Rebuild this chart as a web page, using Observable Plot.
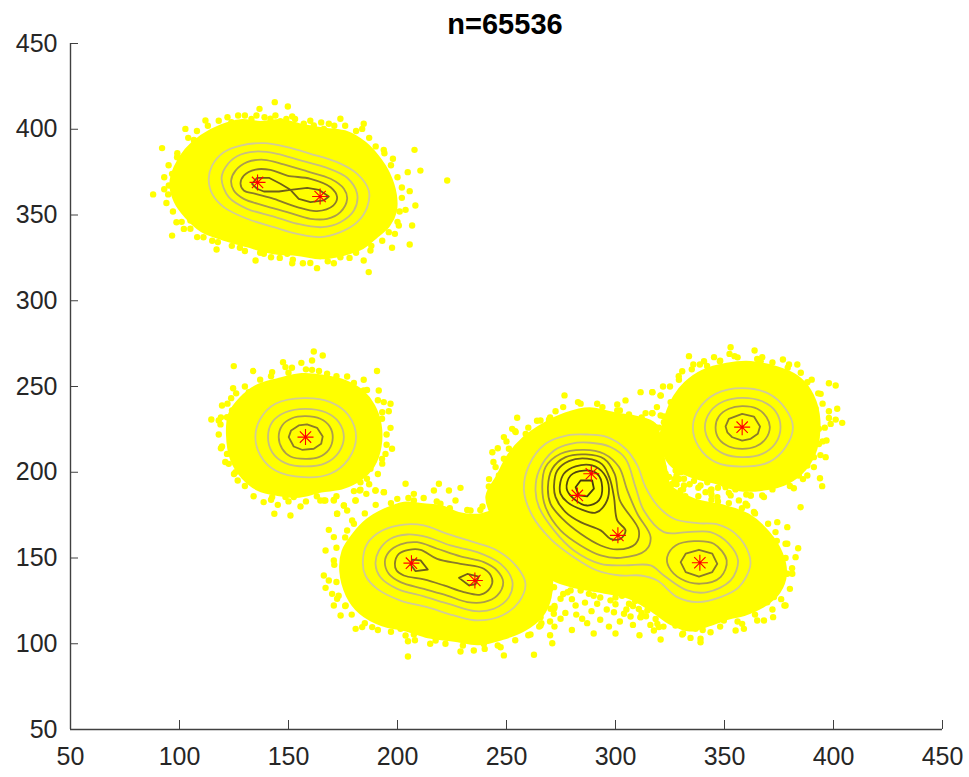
<!DOCTYPE html>
<html><head><meta charset="utf-8">
<script src="https://cdn.jsdelivr.net/npm/d3@7"></script>
<script src="https://cdn.jsdelivr.net/npm/@observablehq/plot@0.6"></script>
<style>
html,body{margin:0;padding:0;background:#fff}
#title{height:34px;text-align:center;font:bold 29px/48px "Liberation Sans",Arial,sans-serif;color:#000;padding-left:41px;box-sizing:border-box;width:969px;overflow:visible}
</style></head><body>
<div id="title">n=65536</div>
<div id="chart"></div>
<script>
const tickValues = [50,100,150,200,250,300,350,400,450];

// dense yellow regions of the scatter
const cloudA = [[98,378],[103,388],[110,396],[119,402],[128,405],[137,404],[147,405],[157,402],[167,400],[177,398],[185,392],[191,384],[196,374],[199,362],[199,352],[196,344],[190,337],[184,331],[175,327],[165,325],[154,327],[143,328],[131,332],[120,336],[110,341],[103,349],[98,358],[96,368]];
const cloudB = [[122,222],[123,234],[128,243],[135,250],[145,254],[156,257],[166,256],[176,253],[184,247],[189,239],[192,228],[192,215],[189,204],[183,196],[175,191],[165,189],[155,186],[145,187],[136,190],[129,197],[124,207]];
const cloudC = [[174,142],[175,154],[180,164],[186,172],[194,178],[203,182],[212,181],[220,180],[228,176],[237,175],[245,178],[252,184],[258,176],[265,164],[270,146],[270,127],[266,116],[258,108],[248,103],[237,100],[226,102],[214,104],[204,108],[193,111],[183,118],[177,128]];
const cloudD = [[241,186],[246,198],[251,210],[258,220],[267,228],[277,234],[288,237],[300,234],[310,232],[318,228],[321,214],[323,202],[325,192],[336,184],[350,180],[361,175],[370,165],[376,153],[378,141],[375,130],[369,123],[359,117],[352,115],[343,111],[334,108],[325,112],[316,120],[306,127],[295,130],[282,133],[272,137],[263,146],[256,156],[250,166],[244,174]];
const cloudE = [[323,232],[327,244],[332,252],[340,259],[351,263],[362,264],[374,261],[383,256],[389,248],[393,234],[392,214],[387,202],[379,194],[367,190],[356,190],[346,194],[334,198],[325,205],[321,218]];

// scatter points along the ragged edge of each region
const edgeA = [[104,395],[108,399],[113,402],[118,405],[122,407],[130,408],[133,406],[139,407],[144,408],[149,406],[153,406],[160,405],[165,404],[171,402],[176,402],[181,399],[187,395],[190,390],[194,386],[197,379],[200,372],[202,366],[202,360],[201,352],[200,346],[196,340],[193,335],[188,332],[181,328],[178,325],[168,323],[160,322],[152,324],[146,325],[137,328],[130,329],[124,332],[115,335],[111,337],[105,342],[101,346],[97,352],[94,357],[93,365],[93,372],[95,379],[99,386]];
const edgeB = [[118,222],[119,232],[122,240],[126,246],[130,250],[137,254],[142,256],[150,258],[158,260],[164,259],[172,256],[180,252],[186,248],[191,242],[193,235],[195,222],[195,216],[193,205],[191,199],[187,193],[180,189],[172,186],[163,186],[158,183],[150,183],[142,184],[134,186],[130,192],[125,199],[121,206],[119,214]];
const edgeC = [[171,146],[172,156],[176,162],[180,170],[185,176],[190,181],[197,182],[205,185],[212,185],[218,183],[224,179],[232,178],[238,178],[172,136],[173,128],[176,122],[179,117],[185,112],[191,108],[197,107],[208,102],[215,100],[222,100],[230,99],[240,97],[246,99],[254,102],[260,105],[265,110],[270,113],[272,121]];
const edgeD = [[246,214],[250,218],[254,224],[260,226],[264,230],[270,232],[276,238],[284,240],[294,238],[302,236],[312,232],[320,226],[323,218],[325,210],[327,196],[331,190],[338,186],[344,184],[352,182],[358,179],[364,176],[370,170],[374,160],[378,150],[381,144],[380,132],[376,126],[372,120],[364,117],[356,113],[348,110],[340,108],[331,106],[322,110],[314,116],[308,122],[300,127],[290,128],[278,130],[270,132],[242,196],[244,206],[239,180]];
const edgeE = [[325,250],[329,256],[335,260],[342,262],[348,265],[356,267],[365,266],[372,264],[379,261],[385,258],[390,254],[393,246],[395,240],[396,226],[395,218],[394,210],[391,203],[386,196],[380,192],[372,190],[360,187],[352,188],[344,190],[336,195],[328,198],[322,203],[319,210],[318,222],[319,238]];
// scatter points in the thin zones below D and between D and E
const gapBelowD = [[268,126],[272,122],[276,129],[280,126],[284,131],[286,124],[289,119],[293,127],[296,120],[300,123],[303,128],[305,120],[309,125],[312,118],[315,122],[277,118],[282,117],[287,112],[293,114],[297,110],[302,113],[308,111],[264,122],[266,112],[261,118],[272,110],[280,108],[290,106],[300,106],[311,105],[316,111],[270,105]];
const gapBetweenDE = [[330,200],[336,199],[342,197],[347,191],[351,196],[355,190],[338,191],[332,186],[326,186],[323,181],[347,183],[340,180],[328,193],[334,193],[344,187]];

// individually visible scatter points
const pointsA = [[143.7,415.8],[149.7,413.3],[136.7,411.9],[135.3,408],[126.9,408],[111.9,405.1],[102.7,400.2],[123.8,404.1],[92,389],[106.6,393.8],[98.9,383.7],[96.6,374],[95.1,367.2],[87.9,362],[94.8,362],[100.8,356.9],[103.5,350.7],[98.6,345.8],[105,346.8],[102,341.9],[96.6,338],[108.1,337.1],[117.6,334.2],[117,329.9],[127.7,330.9],[134.9,323.5],[138.7,327.4],[142,325.4],[151.7,321.9],[156.6,321.9],[163.1,319],[170.8,321.9],[184.5,323.5],[186.8,316.7],[187.6,329.3],[197.5,330.9],[205.6,332.8],[198.8,339],[206.7,343.9],[200.6,343.9],[203.7,353],[208.2,355.5],[205.6,363.9],[222.8,370.1],[210.5,375.9],[204.7,375],[207.8,388],[197.9,382.8],[193.7,388],[184.5,403.2],[183.8,400.2],[173.8,406.1],[168.5,403.2],[166.2,400.2],[151.7,407.4],[141.7,406.1],[146.3,404.7],[157,403.2],[161.6,402.2],[192.2,344.9],[189.1,339],[149.4,327.4],[173.8,325.4]];
const pointsB = [[161.6,270.4],[165.7,268.1],[147.5,264.2],[155.9,263.8],[160.8,265.2],[148.6,261.3],[151.6,260.9],[124.9,261.9],[133.8,259],[142.5,258.4],[190.6,259],[160.8,259.7],[167.7,257.4],[176.9,255.8],[184.5,253.9],[124.6,249],[131.8,246.7],[123.7,243.2],[119.5,238.9],[114.6,230.8],[118,230.2],[121.8,232.1],[124.1,236],[118.8,227.9],[119.5,215],[121.8,210.7],[123.4,215.6],[122.6,204.9],[125.7,200.1],[126.7,195.2],[193.7,240.9],[196.8,239.9],[196,235.6],[189.1,235],[192.9,231.2],[196.8,225.9],[197.5,213.7],[192.9,207.8],[194.5,210.7],[191.4,247.7],[184.5,247.7],[186,196.2],[183,194.2],[184.5,204.9],[187.6,202],[193.7,188.4],[189.9,189.4],[185.7,187.4],[182.7,189.4],[175.4,180.6],[170.8,183.9],[164.6,183.5],[166.9,183.5],[155.5,180],[150.9,174.8],[143.5,175.8],[145.1,181],[138.6,182.6],[142.5,185.5],[148.6,185.5],[152.4,185.5],[172.3,175.8],[176.9,177.7],[180.7,183.5]];
const pointsC = [[189.9,189.4],[193.8,188.4],[183,189.8],[180.8,183.5],[175.4,180.6],[170.8,183.5],[166.2,183.5],[172.3,175.8],[179.2,171.9],[168.5,166.4],[170.8,162.2],[176.9,166],[167,154.4],[170.8,148.6],[166.2,139.8],[168.5,136.9],[167,132.6],[170,129.1],[172.3,126.2],[170.8,122.3],[176.2,122.3],[173.9,116.5],[180.8,108.7],[183.8,109.7],[188.4,109.7],[201.4,108.7],[203.7,104.8],[207.5,105.4],[204.8,101.5],[204.8,92.6],[217.5,101.9],[228.9,95.5],[235,96.1],[248.8,93.2],[262.6,93.6],[271,100.3],[261,105.4],[265.6,110.7],[271.7,117.5],[271.7,120.4],[247.3,98],[239.6,99.9],[219,193.3],[203.7,193.3],[207.5,187.4],[216.7,189.4],[223.6,189.4],[228.9,190.9],[241.9,191.7],[244.2,183.5],[226.6,183.5],[219.7,181.6],[233.5,177.7],[199.9,184.5],[207.5,183.5]];
const pointsD = [[276.6,244.8],[282.8,240.9],[291.6,239.9],[300.8,239.5],[304.6,241.9],[311.5,246.7],[316.9,246.7],[320.7,244.8],[325.3,240.9],[272.5,235.6],[254.9,231.8],[269.5,230.6],[265.6,230.2],[252.6,225.3],[248.8,220.5],[258.8,222.4],[254.2,223.4],[243.5,211.7],[251.1,213.7],[248.8,207.9],[245,203],[246.5,198.1],[300.8,236],[306.2,233.7],[313.8,234.5],[316.9,234.5],[322.2,232.5],[314.6,223.4],[317.6,215.6],[322.2,210.8],[325.3,206.9],[327.6,201],[334.4,202],[340.6,201],[324.5,197.2],[331.4,196.2],[329.9,189.4],[342.1,194.2],[343.6,189.4],[349.7,193.3],[352.8,186.5],[346.7,185.5],[356.6,183.6],[360.4,180.6],[362,186.5],[368.1,185.5],[363.5,176.8],[374.2,170.9],[378.8,168],[373.4,165.1],[378,158.3],[372.7,156.4],[378.8,140.8],[378,122.3],[383.8,155.7],[378.8,158.3],[382.6,150.5],[381.1,140.8],[378,140.8],[377.5,122.3],[372.3,115.5],[368.1,113.6],[365,113.6],[358.9,108.7],[355.1,107.7],[358.1,111.6],[349.7,113.6],[343.6,106.7],[339,102.9],[339,100.9],[334.4,103.4],[330.6,105.4],[320.7,102.5],[317.6,107.7],[319.9,109.7],[327.5,110.6],[311.5,115.5],[306.9,115.9],[336.7,108.7],[310.7,120.3],[318.4,114.5],[372.7,127.2],[369.6,124.2],[376.5,149.5],[373.4,156.3],[270.2,120.4],[274.8,114.6],[281.7,122.3],[284.7,114.6],[265.6,115.5],[257.2,112.6],[291.6,123.3],[299.3,118.4],[303.9,117.5],[311.5,115.5],[279.4,131.1],[274.8,126.2],[297.7,125.3],[287.8,129.1],[306.2,123.3],[271.8,133],[314.6,119.4],[319.2,111.6]];
const pointsE = [[352.8,272.9],[352.3,269],[354.6,267.7],[363.8,271],[333.7,267.7],[345.2,267.1],[347.9,264.7],[367.3,267.1],[366.6,264.7],[376.8,265.7],[383.4,262.8],[379.6,262.8],[335.7,262.8],[340.6,264.7],[338.7,262.8],[330.6,258.9],[329.1,253.9],[321.8,250],[316.9,246.7],[320.7,244.7],[397.9,251.9],[401,250.6],[388,252.5],[394.1,245.7],[391.8,237],[397.9,235.6],[401.7,237],[397.9,231.7],[401,230.7],[404,228.8],[398.7,228.2],[393.3,225.3],[396.8,218.5],[393.3,216.5],[391,208.8],[396.4,208.8],[388,203.9],[384.1,198.1],[388,198.1],[393.8,196.5],[394.8,191.9],[381.8,190.7],[384.9,179.6],[367.3,186.4],[362,186.4],[359.7,181.6],[350.5,191.3],[339,192.3],[341.3,188.4],[326,193.2],[331.4,192.3],[329.1,196.1],[323,199.1],[316.9,234.4],[320.7,233.1],[322.2,229.2],[318.4,226.3],[321.5,222.4],[319.2,216.5]];

// density contours
const contourA1 = [[113.4,371.1],[115,378.9],[120.3,386.6],[128,390.5],[138.7,391.9],[149.4,389.6],[160.1,385.7],[172.3,380.8],[181.5,374],[186.8,364.3],[186.1,354.6],[181.5,345.8],[173.8,340],[164.7,337.1],[154,339],[143.3,342.9],[131,347.8],[120.3,354.6],[115,362.3]];
const contourA2 = [[119.3,371.1],[121.1,377.9],[126.4,384.3],[134.9,387],[144.8,385.7],[155.5,381.8],[167.7,377.5],[176.9,371.7],[181.5,362.3],[180,352.6],[173.8,345.8],[165.4,342.9],[154,344.9],[143.3,349.1],[131,353.6],[122.6,360.4]];
const contourA3 = [[123.7,370.1],[125.7,375.9],[131,380.8],[138.7,382.2],[147.8,379.5],[158.6,375.4],[169.3,371.1],[175.4,365.3],[176.9,359.4],[173.8,351.7],[167.7,347.8],[160.1,347.8],[149.4,351.7],[138.7,355.5],[129.5,359.4],[124.9,364.3]];
const contourA4 = [[128,368.2],[129.5,373],[134.9,376.5],[141.7,376.3],[149.4,373],[160.1,371.1],[169.3,366.2],[172.3,360.4],[170.5,355.5],[163.1,352.3],[154,354.6],[143.3,359.4],[134.9,362.3],[129.5,364.3]];
const contourA5a = [[133.3,368.2],[135.6,371.7],[141,371.7],[146.3,368.2],[150.9,364.7],[145.6,363.7],[138.7,363.7],[135.6,365.3]];
const contourA5b = [[150.9,364.7],[158.6,365.8],[163.9,364.7],[168.5,360.8],[166.2,358.5],[160.1,357.5],[154.7,359.4]];
const contourB1 = [[134.8,220.5],[137.1,231.2],[144,239.9],[157,243.2],[169.2,240.9],[177.6,233.1],[181,220.5],[177.6,207.8],[169.2,199.1],[157,197.1],[144,201],[137.1,209.8]];
const contourB2 = [[140.6,220.5],[142.5,229.2],[148.6,235],[157.8,237],[167,235],[173.1,229.2],[175.4,220.5],[173.1,211.7],[167,205.3],[157.8,203.4],[148.6,205.3],[142.5,211.7]];
const contourB3 = [[145.5,220.5],[147.1,227.3],[151.6,231.5],[157.8,232.7],[164.6,231.2],[168.9,226.7],[170.3,220.1],[168.5,213.1],[163.9,208.8],[157.8,207.8],[150.9,209.2],[147.1,213.7]];
const contourB4 = [[150.1,220.5],[151.2,224.4],[154.7,227.3],[158.5,227.9],[163.1,225.9],[165.7,220.9],[165,216.6],[161.6,213.7],[156.2,213.1],[152.4,215]];
const contourC1 = [[184.1,147.6],[186.1,158.3],[193,166],[202.9,169.5],[212.1,169],[222.8,164.1],[235,159.2],[245.7,154.4],[254.9,144.7],[258.7,135],[255.7,124.3],[248,116.5],[236.6,113.6],[225.9,116.5],[213.6,121.3],[201.4,125.2],[190.7,132],[185.3,139.8]];
const contourC2 = [[189.9,146.6],[191.5,154.4],[196.8,161.2],[204.5,163.7],[213.6,162.2],[224.3,157.3],[236.6,153.4],[247.3,146.6],[252.6,136.9],[251.1,127.2],[244.2,120.4],[235.8,119],[224.3,122.9],[212.1,127.6],[199.9,132],[192.2,138.8]];
const contourC3 = [[194.2,147.6],[196,153.4],[201.4,157.9],[209,159.2],[218.2,155.4],[228.9,150.9],[239.6,147.6],[245.7,142.7],[248.5,135.9],[245.7,128.1],[239.6,124.3],[232,124.3],[222.8,128.1],[212.1,132],[201.4,135.9],[196,140.8]];
const contourC4 = [[198.8,146.6],[200.6,152.4],[205.2,154.8],[210.6,154.8],[218.2,149.5],[228.9,146.6],[239.6,143.7],[243.4,137.9],[242.7,133],[238.1,128.7],[230.4,130.1],[221.3,134],[212.1,137.5],[202.9,139.8],[199.6,142.7]];
const contourC5a = [[206.7,149.1],[210.6,148.6],[213.9,143.3],[208.3,142.3],[206,146.2]];
const contourC5b = [[228.2,138.4],[232,140.7],[237.3,139.2],[235.8,134.7],[232.7,134.1]];
const contourD1 = [[258,189.4],[260.3,204],[267.9,216.6],[277.9,221.5],[287,222],[296.2,220.5],[304.6,213.7],[310,204],[313.8,191.3],[319.2,180.6],[326.8,172.9],[337.5,170.3],[346.7,169.6],[355.1,164.1],[361.2,152.5],[361.7,144.7],[356.6,133],[348.2,127.2],[337.5,124.3],[328.3,127.2],[319.2,136.9],[311.5,139.8],[302.3,139.8],[291.6,142.7],[280.9,150.5],[270.2,161.2],[261.8,174.8]];
const contourD2 = [[263.3,189.4],[264.9,201],[271.8,212.7],[279.4,216.6],[288.6,217.2],[297.7,214.7],[304.6,207.9],[309.2,191.3],[313,177.7],[322.2,165.1],[332.9,165.1],[343.6,165.1],[352,158.3],[356.2,148.6],[352.8,136.9],[342.1,130.1],[332.9,131.1],[322.2,139.8],[316.1,145.7],[303.9,145.7],[293.2,146.6],[280.9,154.4],[271.8,166.1],[264.9,179.7]];
const contourD3 = [[266.4,191.3],[267.9,203],[274.8,210.8],[285.5,213.1],[294.7,210.8],[301.6,203],[305.4,189.4],[310,175.8],[316.1,162.2],[313.8,154.4],[302.3,150.1],[293.2,151.5],[284,157.3],[274.8,166.1],[267.9,179.7]];
const contourD3b = [[323.7,150.5],[327.6,157.3],[336,159.8],[345.1,158.3],[351,148.6],[348.2,138.9],[339,135],[329.9,137.9],[324.5,144.7]];
const contourD4 = [[269,191.3],[271,202],[277.1,208.8],[286.3,210.4],[294.7,207.9],[299.6,199.1],[302,183.6],[310.7,166.1],[309.2,158.3],[300.8,155],[293.2,157.3],[284,164.1],[275.6,172.9],[270.2,181.6]];
const contourD4b = [[329.9,147.6],[332.2,152.5],[338.3,154.8],[344.4,152.5],[346.7,146.6],[344.4,141.8],[338.3,139.2],[332.2,141.8]];
const contourD5 = [[271.8,192.3],[273.3,201],[278.6,206.5],[287,207.9],[293.9,204.6],[297.4,196.2],[299.3,185.5],[300.8,171.9],[304.6,166.1],[302.3,161.2],[297.7,161.2],[293.2,166.1],[284,170.9],[277.1,176.8],[272.5,185.5]];
const contourD6 = [[274.5,192.3],[276.3,199.1],[281.7,203.4],[289.3,204],[294.7,199.1],[297,190.4],[295.4,181.6],[290.9,176.4],[284.8,178.1],[277.9,182.6],[274.8,187.4]];
const contourD7 = [[277.6,190.4],[279.4,198.1],[285.5,201],[291.6,199.1],[293.9,191.3],[292.4,183.6],[287,180.6],[280.9,184.5]];
const contourD8 = [[281.7,191.3],[284,195.2],[289.3,195.2],[290.1,190.4],[287,185.9],[283.2,186.5]];
const contourE1 = [[335.5,226.3],[338.3,237],[345.9,245.7],[358.1,249],[370.4,245.7],[378,237],[381.4,226.3],[378,214.6],[370.4,205.9],[358.1,203.3],[345.9,205.9],[338.3,214.6]];
const contourE2 = [[341,226.3],[343.6,235.6],[349.7,241.4],[358.1,243.4],[367.3,241.4],[373.4,235.6],[375.7,226.3],[373.4,216.9],[367.3,210.7],[358.1,208.8],[349.7,210.7],[343.6,216.9]];
const contourE3 = [[345.9,226.3],[347.4,232.5],[352,237],[358.1,238.5],[365,237],[369.3,232.1],[370.8,226.3],[368.9,219.5],[364.3,215],[358.1,213.6],[352,215],[347.4,219.5]];
const contourE4 = [[350.5,226.7],[352,231.1],[358.1,234],[363.5,232.5],[366.3,226.7],[365.3,222.4],[362,219.5],[358.1,218.5],[353.6,220.4],[351.3,223.3]];

const levelColors = ["#d3cc96","#c8bf80","#ab9c4c","#8a7a2a","#6f6018","#5e5013","#50440f","#463c10"];
const contours = [
  [0,contourA1],[1,contourA2],[2,contourA3],[3,contourA4],[4,contourA5a],[4,contourA5b],
  [0,contourB1],[1,contourB2],[2,contourB3],[3,contourB4],
  [0,contourC1],[1,contourC2],[2,contourC3],[3,contourC4],[4,contourC5a],[4,contourC5b],
  [0,contourD1],[1,contourD2],[2,contourD3],[2,contourD3b],[3,contourD4],[3,contourD4b],[4,contourD5],[5,contourD6],[6,contourD7],[7,contourD8],
  [0,contourE1],[1,contourE2],[2,contourE3],[3,contourE4]
];
const polygonal = new Set([contourA5a,contourA5b,contourC5a,contourC5b,contourD8,contourB4,contourE4,contourD4b]);

const centers = [[135.8,369],[164.5,360.8],[157.8,220.5],[206.4,147],[235.5,136.9],[288.9,199.1],[282.5,186.5],[301.1,163.2],[338.7,147.2],[358.1,226.3]];

const clouds = [cloudA,cloudB,cloudC,cloudD,cloudE];
const scatterPoints = [...edgeA,...edgeB,...edgeC,...edgeD,...edgeE,...gapBelowD,...gapBetweenDE,...pointsA,...pointsB,...pointsC,...pointsD,...pointsE];
const px = d=>d[0], py = d=>d[1];
const star8 = {draw(ctx,size){
  const r = Math.sqrt(size/Math.PI), k = r*Math.SQRT1_2;
  ctx.moveTo(-r,0);ctx.lineTo(r,0);ctx.moveTo(0,-r);ctx.lineTo(0,r);
  ctx.moveTo(-k,-k);ctx.lineTo(k,k);ctx.moveTo(-k,k);ctx.lineTo(k,-k);
}};

const chart = Plot.plot({
  width:969, height:743,
  marginLeft:70, marginRight:27, marginTop:9, marginBottom:48,
  style:{fontFamily:'"Liberation Sans",Arial,sans-serif',background:"none",overflow:"visible"},
  x:{domain:[50,450]}, y:{domain:[50,450]},
  marks:[
    ...clouds.map(c=>Plot.line(c,{x:px,y:py,fill:"#ffff00",stroke:"#ffff00",strokeWidth:3,curve:"catmull-rom-closed"})),
    Plot.dot(scatterPoints,{x:px,y:py,r:3.2,fill:"#ffff00"}),
    ...contours.map(([lev,pts])=>Plot.line(pts,{x:px,y:py,stroke:levelColors[lev],strokeWidth:1.8,curve:polygonal.has(pts)?"linear-closed":"catmull-rom-closed"})),
    Plot.dot(centers,{x:px,y:py,r:8,symbol:star8,stroke:"#ff0000",strokeWidth:1.1,fill:"none"}),
    Plot.ruleX([50],{stroke:"#404040",strokeWidth:1.4}),
    Plot.ruleY([50],{stroke:"#404040",strokeWidth:1.4}),
    Plot.axisX(tickValues,{anchor:"bottom",tickSize:-9,tickPadding:27,fontSize:25,stroke:"#404040",color:"#262626",label:null}),
    Plot.axisY(tickValues,{anchor:"left",tickSize:-8,tickPadding:21,fontSize:25,stroke:"#404040",color:"#262626",label:null})
  ]
});
document.getElementById("chart").appendChild(chart);
</script>
</body></html>
